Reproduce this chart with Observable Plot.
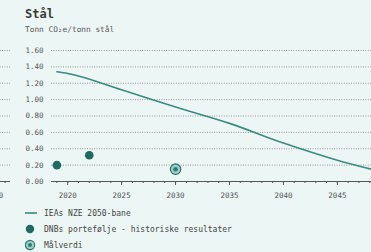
<!DOCTYPE html>
<html><head><meta charset="utf-8">
<script src="https://cdn.jsdelivr.net/npm/d3@7"></script>
<script src="https://cdn.jsdelivr.net/npm/@observablehq/plot@0.6"></script>
<style>
html,body{margin:0;padding:0;width:371px;height:252px;overflow:hidden;background:#ecf7f5;font-family:"DejaVu Sans Mono",monospace;}
#wrap{position:relative;width:371px;height:252px;overflow:hidden;}
.abs{position:absolute;}
#main,#left{width:420px;height:252px;}
#main svg,#left svg{max-width:none !important;width:420px !important;height:252px !important;display:block;}
#title{left:25px;top:7px;font-size:12px;line-height:14px;font-weight:bold;color:#3a3a3a;}
#subtitle{left:25px;top:25px;font-size:7.8px;line-height:10px;color:#555;}
#legend{left:25px;top:205px;font-size:8px;color:#444;}
.item{display:flex;align-items:center;height:16px;white-space:nowrap;}
.item svg{margin-right:6px;flex:none;}
</style></head>
<body><div id="wrap">
<div id="left" class="abs" style="left:-397px;top:0"></div>
<div id="main" class="abs" style="left:0;top:0"></div>
<div id="title" class="abs">Stål</div>
<div id="subtitle" class="abs">Tonn CO₂e/tonn stål</div>
<div id="legend" class="abs"></div>
</div>
<script>
// Data
const nzeYears = [2019, 2020, 2025, 2030, 2035, 2040, 2045, 2050];
const nzeValues = [1.34, 1.32, 1.12, 0.91, 0.71, 0.47, 0.26, 0.09];
const histYears = [2019, 2022];
const histValues = [0.20, 0.32];
const targetYears = [2030];
const targetValues = [0.15];
const yTicks = [0, 0.2, 0.4, 0.6, 0.8, 1.0, 1.2, 1.4, 1.6];
const xMajor = [2020, 2025, 2030, 2035, 2040, 2045, 2050];
const xMinor = d3.range(2019, 2052);
const legendLabels = ["IEAs NZE 2050-bane", "DNBs portefølje - historiske resultater", "Målverdi"];

const lineColor = "#3b8a7f";
const dotColor = "#1f6b61";
const targetColor = "#2c7d71";
const axisColor = "#555";

const nze = nzeYears.map((y, i) => ({year: y, value: nzeValues[i]}));
const hist = histYears.map((y, i) => ({year: y, value: histValues[i]}));
const target = targetYears.map((y, i) => ({year: y, value: targetValues[i]}));

function makeChart(main) {
  const marks = [
    Plot.gridY(yTicks.filter(d => d > 0), {stroke: "#8c8c8c", strokeOpacity: 1, strokeWidth: 0.9, strokeDasharray: "1,1.4"}),
    Plot.ruleY([0], {stroke: axisColor, strokeWidth: 1}),
    Plot.axisX(xMinor, {tickSize: 2, stroke: axisColor, fill: "none"})
  ];
  if (main) {
    marks.push(
      Plot.axisY(yTicks, {tickSize: 0, tickPadding: 8, tickFormat: d => d.toFixed(2), fontSize: 7.5, color: axisColor}),
      Plot.axisX(xMajor, {tickSize: 4, tickPadding: 7, tickFormat: d => String(d), fontSize: 7.5, color: axisColor}),
      Plot.line(nze, {x: "year", y: "value", stroke: lineColor, strokeWidth: 1.6, curve: "monotone-x"}),
      Plot.dot(hist, {x: "year", y: "value", r: 4.3, fill: dotColor}),
      Plot.dot(target, {x: "year", y: "value", r: 5.2, fill: "#a3cfc7", stroke: targetColor, strokeWidth: 1.3}),
      Plot.dot(target, {x: "year", y: "value", r: 2.3, fill: targetColor})
    );
  } else {
    marks.push(
      Plot.axisX([2050], {tickSize: 4, tickPadding: 7, tickFormat: d => String(d), fontSize: 7.5, color: axisColor})
    );
  }
  return Plot.plot({
    width: 420,
    height: 252,
    marginLeft: 51,
    marginRight: 13,
    marginTop: 50,
    marginBottom: 71,
    style: {background: "transparent", fontFamily: "DejaVu Sans Mono, monospace", fontSize: "7.5px", color: axisColor},
    x: {domain: [2018.5, 2051.5], label: null},
    y: {domain: [0, 1.6], label: null},
    marks
  });
}

document.getElementById("main").appendChild(makeChart(true));
document.getElementById("left").appendChild(makeChart(false));

// Legend
const leg = document.getElementById("legend");
const sym = [
  `<svg width="13" height="10"><line x1="0" x2="12" y1="5" y2="5" stroke="${lineColor}" stroke-width="1.6"/></svg>`,
  `<svg width="13" height="10"><circle cx="5" cy="5" r="4.2" fill="${dotColor}"/></svg>`,
  `<svg width="13" height="12"><circle cx="5" cy="6" r="4.6" fill="#a3cfc7" stroke="${targetColor}" stroke-width="1.2"/><circle cx="5" cy="6" r="2" fill="${targetColor}"/></svg>`
];
legendLabels.forEach((t, i) => {
  const d = document.createElement("div");
  d.className = "item";
  d.innerHTML = sym[i] + `<span>${t}</span>`;
  leg.appendChild(d);
});
</script>
</body></html>
